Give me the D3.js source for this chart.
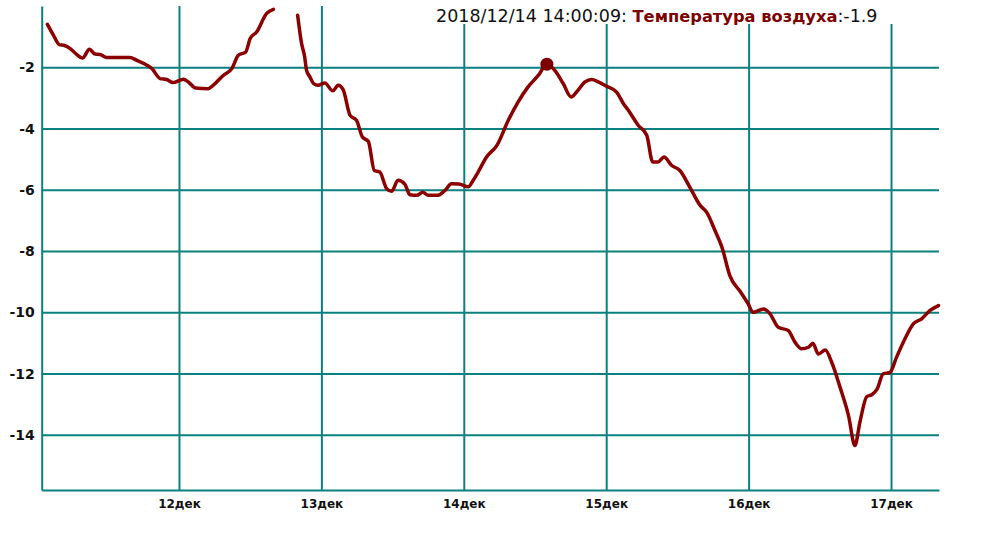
<!DOCTYPE html>
<html>
<head>
<meta charset="utf-8">
<script src="https://cdn.jsdelivr.net/npm/d3@7"></script>
<style>
  html, body { margin: 0; padding: 0; background: #fff; }
  svg { display: block; }
</style>
</head>
<body>
<svg id="chart" width="1000" height="533"></svg>
<script>
// ---- data ----
const times = [
  "2018-12-11 01:50","2018-12-11 02:50","2018-12-11 03:50","2018-12-11 04:35","2018-12-11 05:40",
  "2018-12-11 06:45","2018-12-11 07:45","2018-12-11 08:55","2018-12-11 09:50","2018-12-11 10:40",
  "2018-12-11 11:50","2018-12-11 15:45","2018-12-11 16:50","2018-12-11 18:35","2018-12-11 19:25",
  "2018-12-11 20:50","2018-12-11 21:55","2018-12-11 23:00","2018-12-12 00:45","2018-12-12 01:35",
  "2018-12-12 02:50","2018-12-12 04:55","2018-12-12 05:45","2018-12-12 07:30","2018-12-12 08:55",
  "2018-12-12 10:00","2018-12-12 11:15","2018-12-12 12:00","2018-12-12 13:05","2018-12-12 14:45",
  "2018-12-12 15:55","2018-12-12 18:00","2018-12-12 20:00","2018-12-12 20:40","2018-12-12 21:10",
  "2018-12-12 21:30","2018-12-12 22:05","2018-12-12 22:40","2018-12-12 23:25","2018-12-13 00:35",
  "2018-12-13 01:55","2018-12-13 02:50","2018-12-13 03:40","2018-12-13 04:50","2018-12-13 05:55",
  "2018-12-13 06:55","2018-12-13 07:55","2018-12-13 08:55","2018-12-13 09:50","2018-12-13 11:00",
  "2018-12-13 11:50","2018-12-13 12:55","2018-12-13 14:05","2018-12-13 14:55","2018-12-13 16:05",
  "2018-12-13 17:05","2018-12-13 18:00","2018-12-13 19:40","2018-12-13 20:50","2018-12-13 21:55",
  "2018-12-13 23:10","2018-12-14 00:45","2018-12-14 01:35","2018-12-14 02:25","2018-12-14 03:50",
  "2018-12-14 05:35","2018-12-14 07:30","2018-12-14 09:10","2018-12-14 10:50","2018-12-14 12:35",
  "2018-12-14 14:00","2018-12-14 15:20","2018-12-14 16:45","2018-12-14 18:05","2018-12-14 19:00",
  "2018-12-14 20:25","2018-12-14 21:35","2018-12-14 22:40","2018-12-15 00:05","2018-12-15 01:45",
  "2018-12-15 02:55","2018-12-15 03:45","2018-12-15 05:25","2018-12-15 06:50","2018-12-15 07:50",
  "2018-12-15 08:45","2018-12-15 09:45","2018-12-15 11:00","2018-12-15 12:25","2018-12-15 14:05",
  "2018-12-15 15:50","2018-12-15 16:55","2018-12-15 18:20","2018-12-15 19:30","2018-12-15 20:50",
  "2018-12-15 22:35","2018-12-15 23:55","2018-12-16 00:45","2018-12-16 02:30","2018-12-16 03:35",
  "2018-12-16 05:00","2018-12-16 06:40","2018-12-16 07:50","2018-12-16 08:55","2018-12-16 10:05",
  "2018-12-16 10:50","2018-12-16 11:45","2018-12-16 12:55","2018-12-16 14:00","2018-12-16 15:25",
  "2018-12-16 16:50","2018-12-16 17:55","2018-12-16 18:45","2018-12-16 19:55","2018-12-16 20:45",
  "2018-12-16 21:40","2018-12-16 22:40","2018-12-16 23:50","2018-12-17 00:55","2018-12-17 02:20",
  "2018-12-17 03:45","2018-12-17 05:10","2018-12-17 06:35","2018-12-17 08:00"
];
const temperatures = [
  -0.60,-0.95,-1.26,-1.28,-1.39,
  -1.58,-1.70,-1.41,-1.57,-1.58,
  -1.68,-1.68,-1.77,-1.93,-2.04,
  -2.37,-2.40,-2.50,-2.39,-2.48,
  -2.68,-2.70,-2.59,-2.26,-2.04,
  -1.61,-1.50,-1.06,-0.85,-0.25,
  -0.11,null,-0.30,-1.23,-1.64,
  -2.10,-2.32,-2.53,-2.59,-2.51,
  -2.77,-2.59,-2.73,-3.57,-3.73,
  -4.28,-4.42,-5.37,-5.42,-5.96,
  -6.05,-5.69,-5.82,-6.16,-6.18,
  -6.08,-6.18,-6.18,-6.02,-5.80,
  -5.81,-5.90,-5.69,-5.42,-4.93,
  -4.55,-3.73,-3.13,-2.64,-2.26,
  -1.90,-2.10,-2.53,-2.97,-2.81,
  -2.48,-2.40,-2.48,-2.62,-2.81,
  -3.19,-3.41,-3.90,-4.22,-5.09,
  -5.09,-4.93,-5.20,-5.37,-5.91,
  -6.51,-6.73,-7.33,-7.87,-8.80,
  -9.32,-9.72,-10.00,-9.89,-10.04,
  -10.49,-10.59,-10.98,-11.19,-11.14,
  -11.01,-11.36,-11.23,-11.63,-12.45,
  -13.37,-14.35,-13.59,-12.75,-12.69,
  -12.50,-12.01,-11.96,-11.47,-10.87,
  -10.38,-10.21,-9.94,-9.78
];
const yTicks = [-2, -4, -6, -8, -10, -12, -14];
const xTickDays = ["2018-12-12 00:00","2018-12-13 00:00","2018-12-14 00:00","2018-12-15 00:00","2018-12-16 00:00","2018-12-17 00:00"];
const monthLabel = "дек";
const timeExtent = ["2018-12-11 00:52", "2018-12-17 08:05"];
const valueExtent = [-15.8, 0];
const highlight = { time: "2018-12-14 14:00", value: -1.9 };
const titleStamp = "2018/12/14 14:00:09: ";
const seriesName = "Температура воздуха";
const titleValue = ":-1.9";

// ---- layout ----
const plotL = 41.7, plotR = 939, plotT = 6, plotB = 490;
const gridColor = "#0a8080";
const lineColor = "#8b0000";
const font = "'DejaVu Sans', Verdana, sans-serif";

const parse = d3.timeParse("%Y-%m-%d %H:%M");
const data = times.map((t, i) => ({ t: parse(t), v: temperatures[i] }));

const x = d3.scaleTime().domain(timeExtent.map(parse)).range([plotL, plotR]);
const y = d3.scaleLinear().domain(valueExtent).range([plotB, plotT]);

const svg = d3.select("#chart");

// horizontal grid + y labels
const yAxis = d3.axisLeft(y)
  .tickValues(yTicks)
  .tickSize(-(plotR - plotL))
  .tickSizeOuter(0)
  .tickPadding(7)
  .tickFormat(d => String(d));
const gy = svg.append("g").attr("transform", `translate(${plotL},0)`).call(yAxis);
gy.select(".domain").attr("stroke", gridColor).attr("stroke-width", 2);
gy.selectAll(".tick line").attr("stroke", gridColor).attr("stroke-width", 2);
gy.selectAll(".tick text")
  .attr("fill", "#111")
  .style("font-family", font)
  .style("font-size", "14px")
  .style("font-weight", "bold");

// vertical grid + x labels
const xAxis = d3.axisBottom(x)
  .tickValues(xTickDays.map(parse))
  .tickSize(-(plotB - plotT))
  .tickSizeOuter(0)
  .tickPadding(9)
  .tickFormat(d => d3.timeFormat("%-d")(d) + monthLabel);
const gx = svg.append("g").attr("transform", `translate(0,${plotB})`).call(xAxis);
gx.select(".domain").attr("stroke", gridColor).attr("stroke-width", 2);
gx.selectAll(".tick line").attr("stroke", gridColor).attr("stroke-width", 2);
gx.selectAll(".tick text")
  .attr("fill", "#111")
  .style("font-family", font)
  .style("font-size", "12px")
  .style("font-weight", "bold");
svg.selectAll(".domain").attr("fill", "none");

// title background
svg.append("rect")
  .attr("x", 425).attr("y", 0).attr("width", 520).attr("height", 24)
  .attr("fill", "#fff");

// line
const line = d3.line()
  .defined(d => d.v !== null)
  .x(d => x(d.t))
  .y(d => y(d.v))
  .curve(d3.curveMonotoneX);

svg.append("path")
  .datum(data)
  .attr("fill", "none")
  .attr("stroke", lineColor)
  .attr("stroke-width", 3.5)
  .attr("stroke-linejoin", "round")
  .attr("stroke-linecap", "round")
  .attr("d", line);

// highlighted point
svg.append("circle")
  .attr("cx", x(parse(highlight.time)))
  .attr("cy", y(highlight.value))
  .attr("r", 6.5)
  .attr("fill", "#7d0000");

// title
const title = svg.append("text")
  .attr("x", 436).attr("y", 22)
  .style("font-family", font);
title.append("tspan").attr("fill", "#111").style("font-size", "17.5px").text(titleStamp);
title.append("tspan").attr("fill", "#7d0000").style("font-size", "16.3px").style("font-weight", "bold").text(seriesName);
title.append("tspan").attr("fill", "#111").style("font-size", "17.5px").text(titleValue);
</script>
</body>
</html>
